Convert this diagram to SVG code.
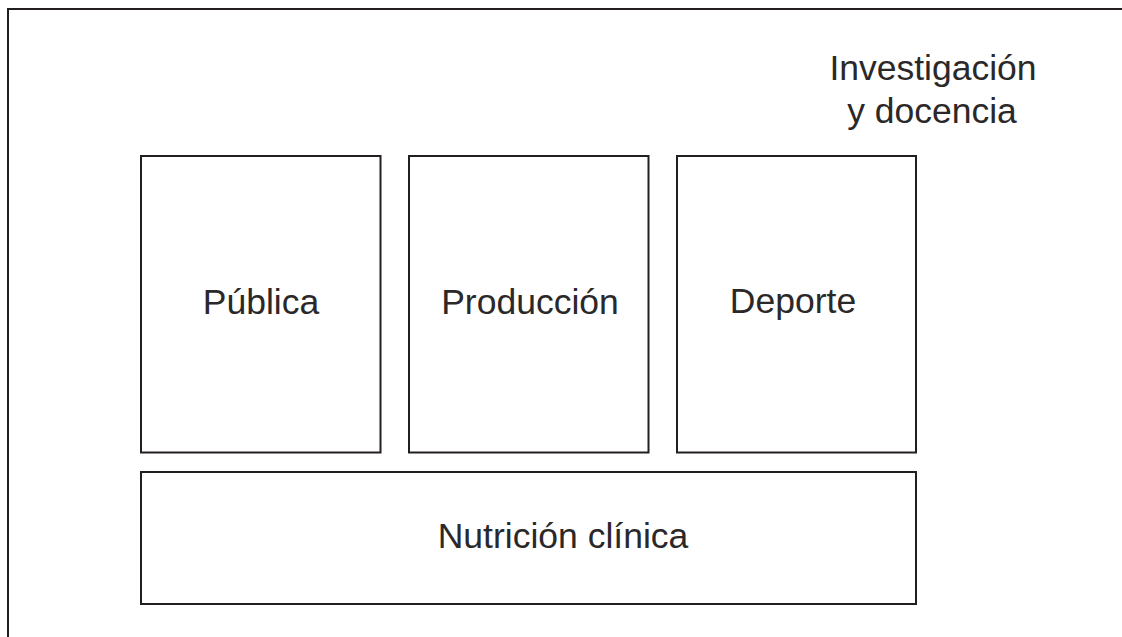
<svg xmlns="http://www.w3.org/2000/svg" width="1122" height="637" viewBox="0 0 1122 637">
<style>
.box{fill:none;stroke:#231f20;stroke-width:2}
.lbl{font-family:"Liberation Sans",Arial,sans-serif;font-size:35.5px;fill:#2b2829;text-anchor:middle}
</style>
<rect width="1122" height="637" fill="#ffffff"/>
<g id="frame">
<path class="box" d="M8,640 V9 H1125"/>
<text class="lbl" x="933" y="80">Investigación</text>
<text class="lbl" x="932" y="123">y docencia</text>
</g>
<g id="publica">
<rect class="box" x="141" y="156" width="239.5" height="296.5"/>
<text class="lbl" x="261" y="314">Pública</text>
</g>
<g id="produccion">
<rect class="box" x="409" y="156" width="239.5" height="296.5"/>
<text class="lbl" x="530" y="314">Producción</text>
</g>
<g id="deporte">
<rect class="box" x="677" y="156" width="239" height="296.5"/>
<text class="lbl" x="793" y="313">Deporte</text>
</g>
<g id="nutricion">
<rect class="box" x="141" y="472" width="775" height="132"/>
<text class="lbl" x="563" y="548">Nutrición clínica</text>
</g>
<g id="connectors"></g>
</svg>
